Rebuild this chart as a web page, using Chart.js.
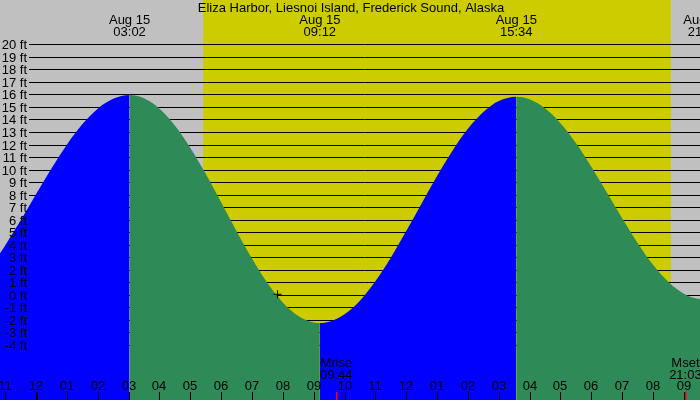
<!DOCTYPE html>
<html>
<head>
<meta charset="utf-8">
<script src="https://cdn.jsdelivr.net/npm/chart.js@4"></script>
<style>
html,body{margin:0;padding:0;background:#c0c0c0;}
#wrap{width:700px;height:400px;position:relative;}
</style>
</head>
<body>
<div id="wrap"><canvas id="c"></canvas></div>
<script>
// ---- data ----
const title = "Eliza Harbor, Liesnoi Island, Frederick Sound, Alaska";
const dateLabel = "Aug 15";

// tide curve: hour of Aug 15 (may be <0 or >24) and height in ft
const tideHours = [-1.2,-1.0,-0.5,0,0.5,1,1.5,2,2.5,3.033,
  3.5,4,4.5,5,5.5,6,6.5,7,7.5,8,8.5,9,9.2,
  9.5,10,10.5,11,11.5,12,12.5,13,13.5,14,14.5,15,15.567,
  16,16.5,17,17.5,18,18.5,19,19.5,20,20.5,21,21.5,21.65];
const tideFeet = [3.19,3.95,5.94,8.04,10.09,11.99,13.61,14.86,15.65,15.95,
  15.69,14.87,13.52,11.74,9.66,7.39,5.08,2.90,0.95,-0.60,-1.68,-2.20,-2.25,
  -2.15,-1.55,-0.46,1.09,2.97,5.09,7.30,9.49,11.51,13.25,14.59,15.47,15.82,
  15.62,14.90,13.70,12.12,10.23,8.19,6.11,4.15,2.40,1.03,0.10,-0.33,-0.35];

// high / low tides
const extremeHours = [3.033, 9.2, 15.567, 21.65];
const extremeTimes = ["03:02", "09:12", "15:34", "21:39"];

// moon events
const moonHours = [9.733, 21.05];
const moonNames = ["Mrise", "Mset"];
const moonTimes = ["09:44", "21:03"];

// sun
const sunriseHour = 5.42;
const sunsetHour = 20.58;

// current-time marker
const markerHour = [7.83];
const markerFeet = [0.05];

// axis ticks
const footTicks = [20,19,18,17,16,15,14,13,12,11,10,9,8,7,6,5,4,3,2,1,0,-1,-2,-3,-4];
const hourTicks = [-1,0,1,2,3,4,5,6,7,8,9,10,11,12,13,14,15,16,17,18,19,20,21];
const hourLabels = ["11","12","01","02","03","04","05","06","07","08","09","10","11","12","01","02","03","04","05","06","07","08","09"];

// ---- styling ----
const nightColor = "#c0c0c0";
const dayColor = "#cccc00";
const risingColor = "#0000ff";
const fallingColor = "#2e8b57";
const FONT = '13px "Liberation Sans", Arial, sans-serif';

const tidePoints = tideHours.map((h, i) => ({x: h, y: tideFeet[i]}));
const markerPoints = markerHour.map((h, i) => ({x: h, y: markerFeet[i]}));

const decorPlugin = {
  id: 'decor',
  beforeDraw(chart) {
    const {ctx, chartArea: a, scales: {x, y}} = chart;
    ctx.save();
    ctx.fillStyle = nightColor;
    ctx.fillRect(0, 0, chart.width, chart.height);
    const xs = x.getPixelForValue(sunriseHour);
    const xe = x.getPixelForValue(sunsetHour);
    ctx.fillStyle = dayColor;
    ctx.fillRect(xs, a.top, xe - xs, a.bottom - a.top);
    ctx.strokeStyle = "#000";
    ctx.lineWidth = 1;
    for (const f of footTicks) {
      const py = Math.round(y.getPixelForValue(f)) + 0.5;
      ctx.beginPath();
      ctx.moveTo(29, py);
      ctx.lineTo(a.right, py);
      ctx.stroke();
    }
    ctx.restore();
  },
  afterDraw(chart) {
    const {ctx, scales: {x, y}} = chart;
    ctx.save();
    ctx.font = FONT;
    ctx.fillStyle = "#000";
    ctx.textBaseline = "alphabetic";
    // y labels
    ctx.textAlign = "right";
    for (const f of footTicks) {
      const py = Math.round(y.getPixelForValue(f));
      ctx.fillText(f + " ft", 27, py + 4.5);
    }
    // hour ticks and labels
    ctx.textAlign = "center";
    hourTicks.forEach((h, i) => {
      const px = Math.round(x.getPixelForValue(h));
      ctx.fillStyle = "#000";
      ctx.fillText(hourLabels[i], px, 390);
      ctx.fillRect(px, 392, h === 0 ? 2 : 1, 8);
    });
    // moon events
    moonHours.forEach((h, i) => {
      const px = x.getPixelForValue(h);
      ctx.fillStyle = "#000";
      ctx.fillText(moonNames[i], px, 367);
      ctx.fillText(moonTimes[i], px, 378.5);
      ctx.fillStyle = "#ff0000";
      ctx.fillRect(Math.round(px), 392, 1.5, 8);
    });
    // high/low labels
    ctx.fillStyle = "#000";
    extremeHours.forEach((h, i) => {
      const px = x.getPixelForValue(h);
      ctx.fillText(dateLabel, px, 24);
      ctx.fillText(extremeTimes[i], px, 36);
    });
    // title
    ctx.fillText(title, 351, 12);
    ctx.restore();
  }
};

new Chart(document.getElementById('c'), {
  type: 'line',
  data: {
    datasets: [
      {
        order: 1,
        data: tidePoints,
        fill: 'start',
        borderWidth: 0,
        pointRadius: 0,
        cubicInterpolationMode: 'monotone',
        backgroundColor: risingColor,
        segment: {
          backgroundColor: c => (c.p1.parsed.y > c.p0.parsed.y ? risingColor : fallingColor),
          borderColor: c => (c.p1.parsed.y > c.p0.parsed.y ? risingColor : fallingColor)
        }
      },
      {
        order: 0,
        type: 'scatter',
        data: markerPoints,
        showLine: false,
        pointStyle: 'cross',
        pointRadius: 4,
        borderColor: '#000',
        borderWidth: 1
      }
    ]
  },
  options: {
    responsive: true,
    maintainAspectRatio: false,
    animation: false,
    layout: {padding: 0, autoPadding: false},
    plugins: {legend: {display: false}, tooltip: {enabled: false}},
    events: [],
    scales: {
      x: {type: 'linear', min: -1.167, max: 21.523, display: false},
      y: {type: 'linear', min: -8.39, max: 23.536, display: false}
    }
  },
  plugins: [decorPlugin]
});
</script>
</body>
</html>
